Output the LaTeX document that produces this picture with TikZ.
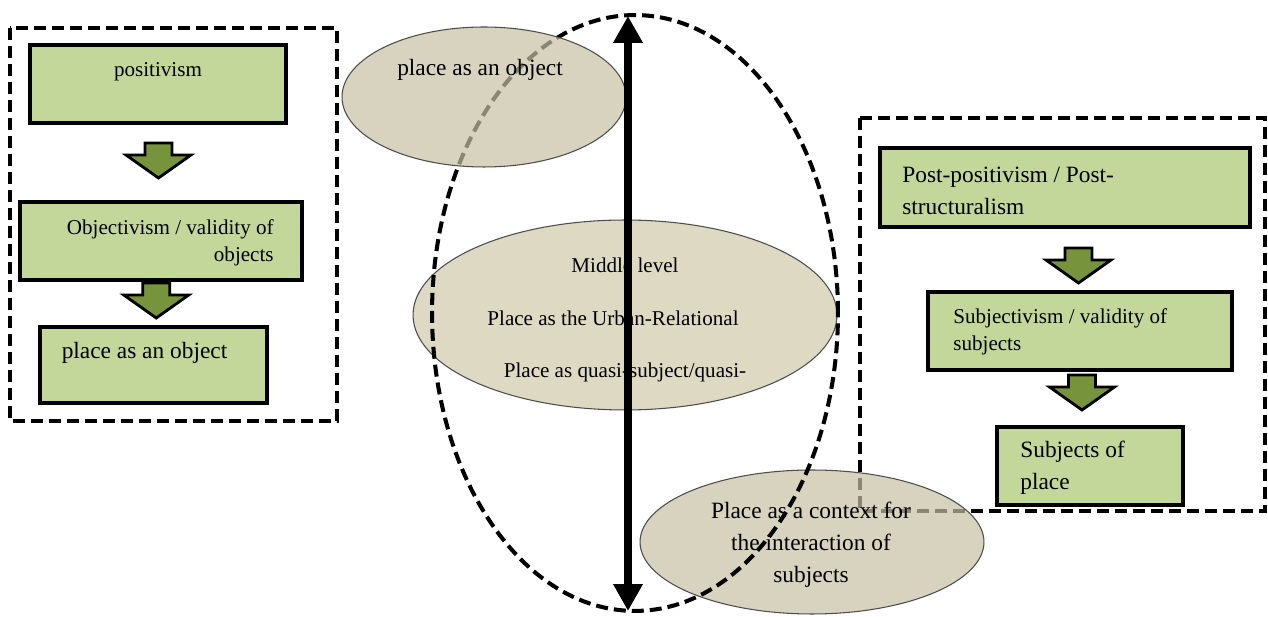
\documentclass[tikz,border=0pt]{standalone}
\usepackage{fontspec}
\setmainfont{Liberation Serif}
\usetikzlibrary{shapes.geometric,arrows.meta,calc}
\definecolor{boxgreen}{HTML}{C4D79B}
\definecolor{arrowgreen}{HTML}{77933C}
\definecolor{placetan}{HTML}{DDD9C3}
\definecolor{placefade}{RGB}{199,192,162}
\tikzset{
  greenbox/.style={draw, line width=2.6pt, fill=boxgreen, inner sep=0pt, minimum height=1.56cm},
  fatarrow/.pic={\draw[line width=1.6pt, fill=arrowgreen, line join=miter] (-13.5,-17.5) -- (13.5,-17.5) -- (13.5,-5.5) -- (32.5,-5.5) -- (0,17.5) -- (-32.5,-5.5) -- (-13.5,-5.5) -- cycle;},
  dashframe/.style={line width=2.3pt, dash pattern=on 0.24cm off 0.12cm},
  placeblob/.style={ellipse, draw=black!70, line width=0.6pt, fill=placetan, inner sep=0pt},
  smalltext/.style={font=\fontsize{12}{15.5}\selectfont, inner sep=0pt},
  bigtext/.style={font=\fontsize{13.3}{18.2}\selectfont, inner sep=0pt}
}
\begin{document}
\begin{tikzpicture}[x=0.02cm, y=-0.02cm, >={Triangle[length=0.54cm,width=0.56cm]}]
\useasboundingbox (0,0) rectangle (1268,617);
% objective side
\draw[dashframe] (10,28) rectangle (337,421);
\node[greenbox, minimum width=5.12cm] (pos) at (158,84) {};
\node[greenbox, minimum width=5.64cm] (obj) at (161,241) {};
\node[greenbox, minimum width=4.54cm, minimum height=1.52cm] (objplace) at (153.5,365) {};
\pic at ($(pos.south)!0.5!(obj.north)+(-1,-2)$) {fatarrow};
\pic at ($(obj.south)!0.5!(objplace.north)+(-1,-3)$) {fatarrow};
\node[smalltext] (tpos) at (158,72) {positivism};
\node[smalltext, align=right, anchor=east] (tobj) at (274,243) {Objectivism / validity of\\objects};
\node[bigtext] (tobjplace) at (144.5,353) {place as an object};
% subjective side
\draw[dashframe] (860,118) rectangle (1265,511);
\node[greenbox, minimum width=7.4cm, minimum height=1.58cm] (post) at (1065,187.5) {};
\node[greenbox, minimum width=6.08cm] (subj) at (1080,331) {};
\node[greenbox, minimum width=3.72cm] (subjplace) at (1090,466) {};
\pic at ($(post.south)!0.5!(subj.north)+(6,6)$) {fatarrow};
\pic at ($(subj.south)!0.5!(subjplace.north)+(-3,-6)$) {fatarrow};
\node[bigtext, align=left, anchor=west] (tpost) at (902,191) {Post-positivism / Post-\\structuralism};
\node[smalltext, align=left, anchor=west] (tsubj) at (953,331.5) {Subjectivism / validity of\\subjects};
\node[bigtext, align=left, anchor=west] (tsubjplace) at (1020,468) {Subjects of\\place};
% levels
\node[placeblob, fill=placefade, fill opacity=0.7, minimum width=6.88cm, minimum height=2.88cm] (context) at (812,542) {};
\node[bigtext, align=center] (tcontext) at (811,545) {Place as a context for\\the interaction of\\subjects};
\node[placeblob, minimum width=8.48cm, minimum height=3.8cm] (middle) at (625,315) {};
\node[smalltext] (tmid1) at (625,265) {Middle level};
\node[smalltext] (tmid2) at (613,318) {Place as the Urban-Relational};
\node[smalltext] (tmid3) at (625,372) {Place as quasi-subject/quasi-};
\node[ellipse, draw, dashframe, inner sep=0pt, minimum width=8.12cm, minimum height=11.92cm] (levels) at (635,313) {};
\node[placeblob, fill=placefade, fill opacity=0.7, minimum width=5.68cm, minimum height=2.8cm] (object) at (484,97) {};
\node[bigtext] (tobject) at (480,70) {place as an object};
\coordinate (up) at (628,16);
\coordinate (down) at (628,611);
\draw[<->, line width=4pt] (up) -- (down);
\end{tikzpicture}
\end{document}
